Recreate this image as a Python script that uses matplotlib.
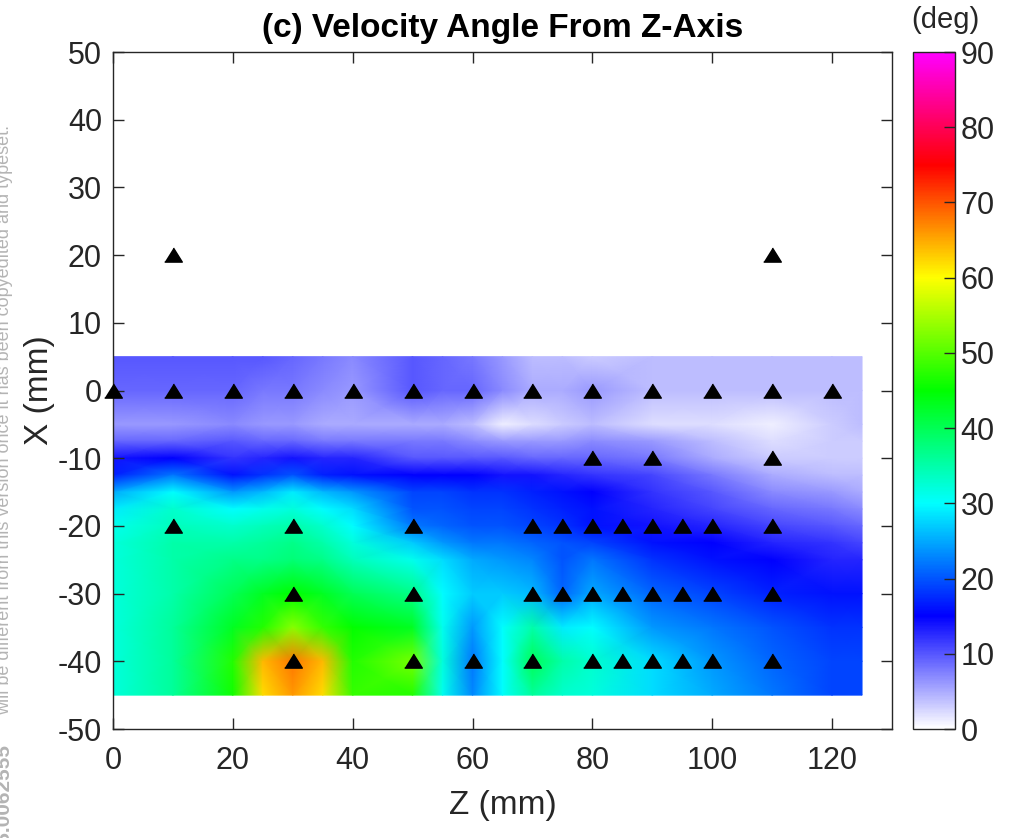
import numpy as np
import matplotlib
matplotlib.use("Agg")
from matplotlib import pyplot as plt
from matplotlib.colors import LinearSegmentedColormap

plt.rcParams['font.family'] = ['Liberation Sans', 'DejaVu Sans']
plt.rcParams['axes.unicode_minus'] = False

# interpolated velocity angle field (deg)
Z_GRID = [0, 10, 20, 25, 30, 35, 40, 50, 55, 60, 65, 70, 75, 80, 90, 100, 110, 120, 125]
X_GRID = [5, 0, -5, -7.5, -10, -12.5, -15, -17.5, -20, -22.5, -25, -30, -35, -40, -45]

ANG_P5 = [10, 10, 10, 10, 9, 8, 7, 10, 9, 8, 6, 4, 4, 3, 4, 4, 4, 4, 4]
ANG_0 = [9, 9, 9, 8, 8, 7, 6, 10, 9, 9, 7, 5, 5, 6, 4, 4, 4, 4, 4]
ANG_M5 = [6, 6, 7, 6, 6, 5, 5, 5, 5, 4, 1, 2, 3, 4, 2, 2, 1, 3, 4]
ANG_M7 = [9, 9, 10, 9, 9, 8, 8, 8, 8, 7, 6, 6, 6, 7, 6, 4, 2, 3, 3]
ANG_M10 = [14, 15, 12, 13, 14, 13, 13, 10, 10, 10, 10, 9, 9, 9, 8, 5, 3, 3, 3]
ANG_M12 = [17, 22, 16, 18, 20, 17, 16, 15, 15, 15, 14, 14, 13, 12, 11, 8, 5, 4, 4]
ANG_M15 = [25, 30, 24, 26, 29, 26, 24, 19, 19, 18, 18, 17, 16, 15, 12, 10, 7, 6, 5]
ANG_M17 = [29, 33, 30, 31, 32, 30, 28, 20, 20, 19, 19, 18, 17, 16, 13, 11, 9, 8, 7]
ANG_M20 = [31, 34, 33, 34, 35, 33, 30, 22, 21, 20, 20, 19, 18, 16, 14, 13, 11, 10, 9]
ANG_M22 = [32, 35, 35, 36, 37, 35, 32, 27, 24, 22, 22, 21, 20, 19, 16, 15, 13, 12, 11]
ANG_M25 = [32, 35, 37, 37, 38, 37, 34, 31, 28, 25, 24, 23, 20, 22, 18, 16, 15, 13, 13]
ANG_M30 = [32, 35, 40, 43, 45, 43, 40, 37, 30, 27, 27, 26, 21, 25, 21, 19, 17, 16, 16]
ANG_M35 = [32, 36, 43, 47, 53, 48, 45, 43, 31, 24, 30, 35, 29, 30, 24, 22, 20, 18, 18]
ANG_M40 = [32, 36, 47, 64, 68, 64, 47, 52, 32, 22, 30, 40, 35, 33, 28, 24, 21, 19, 19]
ANG_M45 = [32, 36, 46, 62, 66, 62, 48, 47, 31, 23, 30, 36, 33, 32, 28, 25, 22, 19, 19]

# measurement locations (Z values for each X row)
PTS_X20 = [10, 110]
PTS_X0 = [0, 10, 20, 30, 40, 50, 60, 70, 80, 90, 100, 110, 120]
PTS_XM10 = [80, 90, 110]
PTS_XM20 = [10, 30, 50, 70, 75, 80, 85, 90, 95, 100, 110]
PTS_XM30 = [30, 50, 70, 75, 80, 85, 90, 95, 100, 110]
PTS_XM40 = [30, 50, 60, 70, 80, 85, 90, 95, 100, 110]

CB_TICKS = [0, 10, 20, 30, 40, 50, 60, 70, 80, 90]

angle = np.array([ANG_P5, ANG_0, ANG_M5, ANG_M7, ANG_M10, ANG_M12, ANG_M15,
                  ANG_M17, ANG_M20, ANG_M22, ANG_M25, ANG_M30, ANG_M35,
                  ANG_M40, ANG_M45], dtype=float)

pt_z, pt_x = [], []
for xv, zs in [(20, PTS_X20), (0, PTS_X0), (-10, PTS_XM10),
               (-20, PTS_XM20), (-30, PTS_XM30), (-40, PTS_XM40)]:
    pt_z += zs
    pt_x += [xv] * len(zs)

cmap = LinearSegmentedColormap.from_list('angle', [
    (0.0, (1, 1, 1)), (1 / 6, (0, 0, 1)), (2 / 6, (0, 1, 1)), (3 / 6, (0, 1, 0)),
    (4 / 6, (1, 1, 0)), (5 / 6, (1, 0, 0)), (1.0, (1, 0, 1))], N=512)

fig = plt.figure(figsize=(10.18, 8.38), dpi=100)
ax = fig.add_axes([113 / 1018, 109 / 838, 779 / 1018, 677 / 838])
cax = fig.add_axes([913 / 1018, 109 / 838, 42 / 1018, 677 / 838])

dark = '#262626'
mesh = ax.pcolormesh(Z_GRID, X_GRID, angle, shading='gouraud', cmap=cmap,
                     vmin=0, vmax=90)

tri = [(-1, -0.75), (1, -0.75), (0, 0.85)]
ax.plot(pt_z, pt_x, linestyle='none', marker=tri, markersize=12.7,
        color='k', clip_on=False, zorder=5)

ax.set_xlim(0, 130)
ax.set_ylim(-50, 50)
ax.set_xticks(range(0, 121, 20))
ax.set_yticks(range(-50, 51, 10))
ax.tick_params(direction='in', length=8, width=1, top=True, right=True,
               labelsize=22, colors=dark)
ax.tick_params(axis='x', pad=12)
ax.tick_params(axis='y', pad=8)
for s in ax.spines.values():
    s.set_color(dark)
    s.set_linewidth(1)

ax.set_xlabel('Z (mm)', fontsize=24, color=dark, labelpad=10)
ax.set_ylabel('X (mm)', fontsize=24, color=dark, labelpad=2)
ax.set_title('(c) Velocity Angle From Z-Axis', fontsize=24, fontweight='bold',
             pad=11)

cb = fig.colorbar(mesh, cax=cax, ticks=CB_TICKS)
cax.tick_params(direction='in', length=8, width=1, labelsize=22, colors=dark,
                pad=4)
cb.outline.set_edgecolor(dark)
cb.outline.set_linewidth(1)
fig.text(945 / 1018, 1 - 20 / 838, '(deg)', fontsize=21, color=dark,
         ha='center', va='center')

# journal watermark in the left margin (partly cut off, as in the source)
fig.text(0.004, 1 - 125 / 838,
         'will be different from this version once it has been copyedited and typeset.',
         rotation=90, rotation_mode='anchor', ha='right', va='center',
         fontsize=13, color='#b4b4b4')
fig.text(0.004, 1 - 745 / 838,
         'DOI: 10.1063/5.0062555',
         rotation=90, rotation_mode='anchor', ha='right', va='center',
         fontsize=15, fontweight='bold', color='#b4b4b4')

fig.savefig('out.png', dpi=100)
